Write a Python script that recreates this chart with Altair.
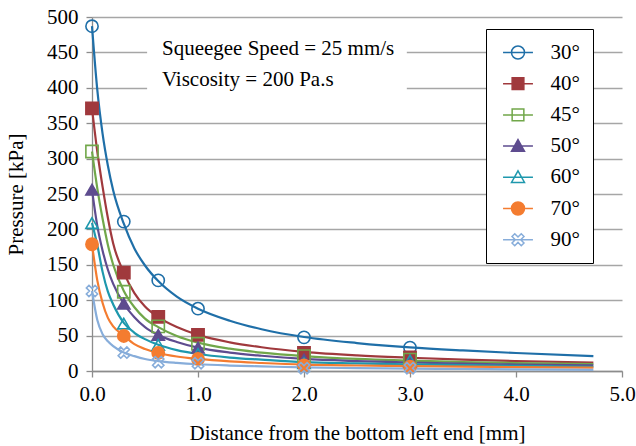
import altair as alt
import pandas as pd

# ---------------- data ----------------
angles = ["30°", "40°", "45°", "50°", "60°", "70°", "90°"]
colors = ["#1F6FA8", "#A0393D", "#71A74A", "#5E4C8F", "#1E98AD", "#F47C30", "#87ADDA"]

# smooth curves
line_x = [0, 0.05, 0.1, 0.15, 0.2, 0.3, 0.4, 0.5, 0.625, 0.8, 1.0, 1.3, 1.6, 2.0, 2.5, 3.0, 3.5, 4.0, 4.73]
line_30 = [487, 397, 335, 290, 255, 208, 173, 149, 127, 105, 88, 71, 59, 48, 39.5, 33.3, 29, 25.4, 21]
line_40 = [371, 310, 260, 216, 180, 139, 110, 91, 76, 62, 51, 40.5, 33.5, 27, 22, 18.7, 16, 14, 12]
line_45 = [310, 258, 215, 178, 150, 113, 90, 74, 62, 49.5, 40, 31.5, 26, 21, 17, 14.6, 12.7, 11.2, 9.9]
line_50 = [256, 205, 170, 143, 123, 95, 76, 62, 51, 41, 33, 26, 21.5, 17, 14, 12, 10.3, 9.2, 8]
line_60 = [209, 178, 140, 112, 94, 68, 54, 45, 37, 29.5, 24, 19, 16, 12.5, 10.8, 9.4, 8.2, 7.2, 6]
line_70 = [179, 128, 96, 75, 63, 50, 38, 31, 25.5, 20.5, 17, 13.5, 11.3, 9, 7.8, 7, 6.2, 5.5, 4.7]
line_90 = [113, 72, 52, 42, 35, 26, 21, 17, 14, 11.5, 9.5, 7.7, 6.5, 5, 4, 3.4, 2.8, 2.3, 1.5]

# markers
marker_x = [0, 0.3, 0.625, 1.0, 2.0, 3.0]
marker_30 = [487, 211, 128, 88, 47.5, 33]
marker_40 = [371, 139, 76.5, 51, 25.5, 19]
marker_45 = [310, 112, 63, 38.5, 21, 16]
marker_50 = [256, 95, 51, 33, 16, 13]
marker_60 = [209, 67, 37, 24, 11, 15]
marker_70 = [179, 49.5, 25.5, 17, 8, 6]
marker_90 = [113, 26, 12.5, 11, 4, 4]

# axis ticks
x_ticks = [0, 1, 2, 3, 4, 5]
y_ticks = [0, 50, 100, 150, 200, 250, 300, 350, 400, 450, 500]

# annotations
note_text = ["Squeegee Speed = 25 mm/s", "Viscosity = 200 Pa.s"]
note_x = [0.66, 0.66]
note_y = [447, 402.5]
box_x = [0.52]
box_x2 = [2.97]
box_y = [372]
box_y2 = [487]

# ---------------- tables ----------------
line_series = [line_30, line_40, line_45, line_50, line_60, line_70, line_90]
marker_series = [marker_30, marker_40, marker_45, marker_50, marker_60, marker_70, marker_90]

lines_df = pd.DataFrame(
    [{"angle": a, "x": x, "p": p} for a, ys in zip(angles, line_series) for x, p in zip(line_x, ys)]
)
markers_df = pd.DataFrame(
    [{"angle": a, "x": x, "p": p} for a, ys in zip(angles, marker_series) for x, p in zip(marker_x, ys)]
)
notes_df = pd.DataFrame({"t": note_text, "x": note_x, "p": note_y})
box_df = pd.DataFrame({"x": box_x, "x2": box_x2, "p": box_y, "p2": box_y2})

FONT = "Liberation Serif"
FS = 21
GRID = "#A6A6A6"
AXIS = "#8C8C8C"

X_PATH = ("M-0.5,-0.92L0,-0.42L0.5,-0.92L0.92,-0.5L0.42,0L0.92,0.5L0.5,0.92L0,0.42"
          "L-0.5,0.92L-0.92,0.5L-0.42,0L-0.92,-0.5Z")
plot_shapes = ["circle", "square", "square", "triangle-up", "triangle-up", "circle", X_PATH]
fills = ["transparent", colors[1], "transparent", colors[3], "transparent", colors[5], "transparent"]

LINE = "M-2.3,0L2.3,0"
leg_shapes = [
    LINE + "M1,0A1,1,0,1,1,-1,0A1,1,0,1,1,1,0Z",
    LINE + "M-0.9,-0.9L0.9,-0.9L0.9,0.9L-0.9,0.9Z",
    LINE + "M-0.9,-0.9L0.9,-0.9L0.9,0.9L-0.9,0.9Z",
    LINE + "M0,-1L1,0.8L-1,0.8Z",
    LINE + "M0,-1L1,0.8L-1,0.8Z",
    LINE + "M1,0A1,1,0,1,1,-1,0A1,1,0,1,1,1,0Z",
    LINE + X_PATH,
]

xscale = alt.Scale(domain=[0, 5], nice=False)
yscale = alt.Scale(domain=[0, 500], nice=False)

x_axis = alt.Axis(
    values=x_ticks, format=".1f", grid=False,
    tickSize=6, tickColor=AXIS, domainColor=AXIS, domainWidth=1.3, tickWidth=1.3,
    labelPadding=6, labelFont=FONT, labelFontSize=FS, labelColor="black",
    title="Distance from the bottom left end [mm]", titleFont=FONT, titleFontSize=FS,
    titleFontWeight="normal", titleColor="black", titleY=68, titleBaseline="alphabetic",
)
y_axis = alt.Axis(
    values=y_ticks, grid=True, gridColor=GRID, gridWidth=1.3,
    tickSize=6, tickColor=AXIS, domainColor=AXIS, domainWidth=1.3, tickWidth=1.3,
    labelPadding=8, labelFont=FONT, labelFontSize=FS, labelColor="black",
    title="Pressure [kPa]", titleFont=FONT, titleFontSize=FS, titleFontWeight="normal",
    titleColor="black", titleX=-66, titleY=177,
)

X = alt.X("x:Q", scale=xscale, axis=x_axis)
Y = alt.Y("p:Q", scale=yscale, axis=y_axis)

box = alt.Chart(box_df).mark_rect(fill="white").encode(
    x=X, x2="x2:Q", y=Y, y2="p2:Q",
)

lines = alt.Chart(lines_df).mark_line(strokeWidth=2.2, interpolate="monotone").encode(
    x=X, y=Y,
    stroke=alt.Stroke("angle:N", scale=alt.Scale(domain=angles, range=colors), legend=None),
)

points = alt.Chart(markers_df).mark_point(size=150, strokeWidth=1.6, opacity=1).encode(
    x=X, y=Y,
    stroke=alt.Stroke("angle:N", scale=alt.Scale(domain=angles, range=colors), legend=None),
    fill=alt.Fill("angle:N", scale=alt.Scale(domain=angles, range=fills), legend=None),
    shape=alt.Shape("angle:N", scale=alt.Scale(domain=angles, range=plot_shapes), legend=None),
)

notes = alt.Chart(notes_df).mark_text(
    align="left", baseline="alphabetic", font=FONT, fontSize=FS, color="black"
).encode(x=X, y=Y, text="t:N")

leg = alt.Legend(
    title=None, orient="none", legendX=394, legendY=12, padding=13,
    symbolOffset=8.5, labelOffset=22, rowPadding=9.2, symbolSize=169,
    symbolStrokeWidth=1.5, labelFont=FONT, labelFontSize=FS, labelColor="black",
    strokeColor="black", fillColor="white",
    labelExpr="datum.label + '\u00a0\u00a0\u00a0\u00a0\u00a0'",
)

legend_layer = alt.Chart(markers_df).transform_filter("false").mark_point(opacity=1).encode(
    x=X, y=Y,
    stroke=alt.Stroke("angle:N", scale=alt.Scale(domain=angles, range=colors), legend=leg),
    fill=alt.Fill("angle:N", scale=alt.Scale(domain=angles, range=fills), legend=leg),
    shape=alt.Shape("angle:N", scale=alt.Scale(domain=angles, range=leg_shapes), legend=leg),
)

chart = alt.layer(box, lines, points, notes, legend_layer).resolve_scale(
    stroke="independent", fill="independent", shape="independent"
).properties(
    width=530, height=354,
    autosize=alt.AutoSizeParams(type="none"),
    padding={"left": 92, "top": 17, "right": 14, "bottom": 75},
    background="white",
).configure_view(
    stroke=None
).configure_axis(
    labelOverlap=False, labelFlush=False, labelSeparation=0, labelBound=False
).configure_axisY(
    labelOverlap=False
)

chart.save("out.html", embed_options={"renderer": "svg", "actions": False})
